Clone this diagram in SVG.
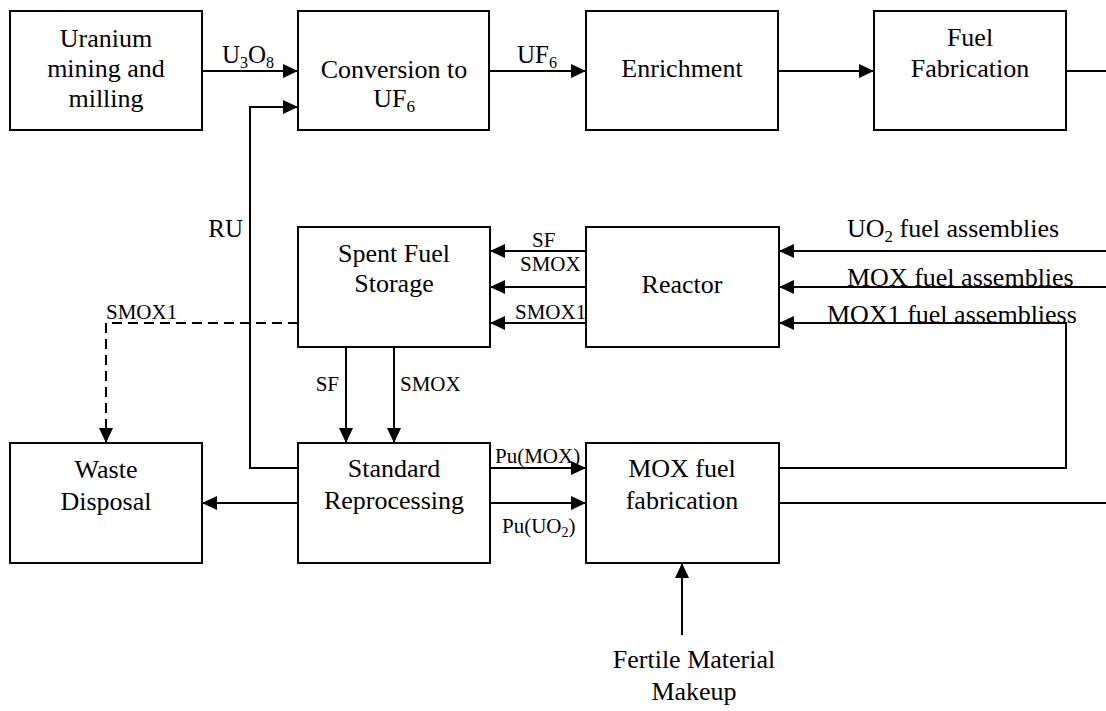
<svg xmlns="http://www.w3.org/2000/svg" width="1106" height="711" viewBox="0 0 1106 711" font-family="'Liberation Serif', 'Times New Roman', 'DejaVu Serif', serif">
<style>
text{font-family:'Liberation Serif','Times New Roman','DejaVu Serif',serif;fill:#000}
.box{fill:#fff;stroke:#000;stroke-width:2}
.t{font-size:26px;text-anchor:middle}
.r{font-size:26px;text-anchor:start}
.l{font-size:21px}
.m{font-size:25px}
.c{fill:none;stroke:#000;stroke-width:2}
.d{fill:none;stroke:#000;stroke-width:2;stroke-dasharray:10 6}
</style>
<defs>
<marker id="ah" markerUnits="userSpaceOnUse" markerWidth="15" markerHeight="14" refX="15" refY="7" orient="auto">
<path d="M0,0 L15,7 L0,14 z" fill="#000"/>
</marker>
</defs>
<rect width="1106" height="711" fill="#fff"/>
<g id="uranium">
<rect class="box" x="10" y="11" width="192" height="119"/>
<text class="t" x="106" y="47">Uranium</text>
<text class="t" x="106" y="77">mining and</text>
<text class="t" x="106" y="107">milling</text>
</g>
<g id="conversion">
<rect class="box" x="298" y="11" width="191" height="119"/>
<text class="t" x="394" y="78">Conversion to</text>
<text class="t" x="394" y="107">UF<tspan font-size="17" dy="5">6</tspan></text>
</g>
<g id="enrichment">
<rect class="box" x="586" y="11" width="192" height="119"/>
<text class="t" x="682" y="77">Enrichment</text>
</g>
<g id="fuelfab">
<rect class="box" x="874" y="11" width="192" height="119"/>
<text class="t" x="970" y="46">Fuel</text>
<text class="t" x="970" y="77">Fabrication</text>
</g>
<g id="spentfuel">
<rect class="box" x="298" y="227" width="192" height="120"/>
<text class="t" x="394" y="262">Spent Fuel</text>
<text class="t" x="394" y="292">Storage</text>
</g>
<g id="reactor">
<rect class="box" x="586" y="227" width="193" height="120"/>
<text class="t" x="682" y="293">Reactor</text>
</g>
<g id="waste">
<rect class="box" x="10" y="443" width="192" height="120"/>
<text class="t" x="106" y="478">Waste</text>
<text class="t" x="106" y="510">Disposal</text>
</g>
<g id="reprocessing">
<rect class="box" x="298" y="443" width="192" height="120"/>
<text class="t" x="394" y="477">Standard</text>
<text class="t" x="394" y="509">Reprocessing</text>
</g>
<g id="moxfab">
<rect class="box" x="586" y="443" width="193" height="120"/>
<text class="t" x="682" y="477">MOX fuel</text>
<text class="t" x="682" y="509">fabrication</text>
</g>
<g id="connectors">
<line class="c" x1="202" y1="71" x2="298" y2="71" marker-end="url(#ah)"/>
<line class="c" x1="489" y1="71" x2="586" y2="71" marker-end="url(#ah)"/>
<line class="c" x1="778" y1="71" x2="874" y2="71" marker-end="url(#ah)"/>
<line class="c" x1="1066" y1="71" x2="1106" y2="71"/>
<polyline class="c" points="298,468 250,468 250,107 298,107" marker-end="url(#ah)"/>
<line class="c" x1="1106" y1="251" x2="779" y2="251" marker-end="url(#ah)"/>
<line class="c" x1="1106" y1="287" x2="779" y2="287" marker-end="url(#ah)"/>
<polyline class="c" points="779,468 1066,468 1066,323 779,323" marker-end="url(#ah)"/>
<line class="c" x1="779" y1="503" x2="1106" y2="503"/>
<line class="c" x1="586" y1="251" x2="490" y2="251" marker-end="url(#ah)"/>
<line class="c" x1="586" y1="287" x2="490" y2="287" marker-end="url(#ah)"/>
<line class="c" x1="586" y1="323" x2="490" y2="323" marker-end="url(#ah)"/>
<polyline class="d" points="298,323 106,323 106,443" marker-end="url(#ah)"/>
<line class="c" x1="346" y1="347" x2="346" y2="443" marker-end="url(#ah)"/>
<line class="c" x1="394" y1="347" x2="394" y2="443" marker-end="url(#ah)"/>
<line class="c" x1="298" y1="503" x2="202" y2="503" marker-end="url(#ah)"/>
<line class="c" x1="490" y1="468" x2="586" y2="468" marker-end="url(#ah)"/>
<line class="c" x1="490" y1="503" x2="586" y2="503" marker-end="url(#ah)"/>
<line class="c" x1="682" y1="635" x2="682" y2="563" marker-end="url(#ah)"/>
<text class="m" x="248" y="63" text-anchor="middle">U<tspan font-size="16" dy="5">3</tspan><tspan dy="-5">O</tspan><tspan font-size="16" dy="5">8</tspan></text>
<text class="m" x="537" y="63" text-anchor="middle">UF<tspan font-size="16" dy="5">6</tspan></text>
<text class="m" x="243" y="237" text-anchor="end">RU</text>
<text class="l" x="532" y="247">SF</text>
<text class="l" x="520" y="271">SMOX</text>
<text class="l" x="515" y="319">SMOX1</text>
<text class="l" x="106" y="319">SMOX1</text>
<text class="l" x="339" y="391" text-anchor="end">SF</text>
<text class="l" x="400" y="391">SMOX</text>
<text class="l" x="495" y="463">Pu(MOX)</text>
<text class="l" x="502" y="533">Pu(UO<tspan font-size="14" dy="4">2</tspan><tspan dy="-4">)</tspan></text>
<text class="r" x="847" y="237">UO<tspan font-size="17" dy="5">2</tspan><tspan dy="-5"> fuel assemblies</tspan></text>
<text class="r" x="847" y="286">MOX fuel assemblies</text>
<text class="r" x="827" y="323">MOX1 fuel assembliess</text>
<text class="t" x="694" y="668">Fertile Material</text>
<text class="t" x="694" y="700">Makeup</text>
</g>
</svg>
